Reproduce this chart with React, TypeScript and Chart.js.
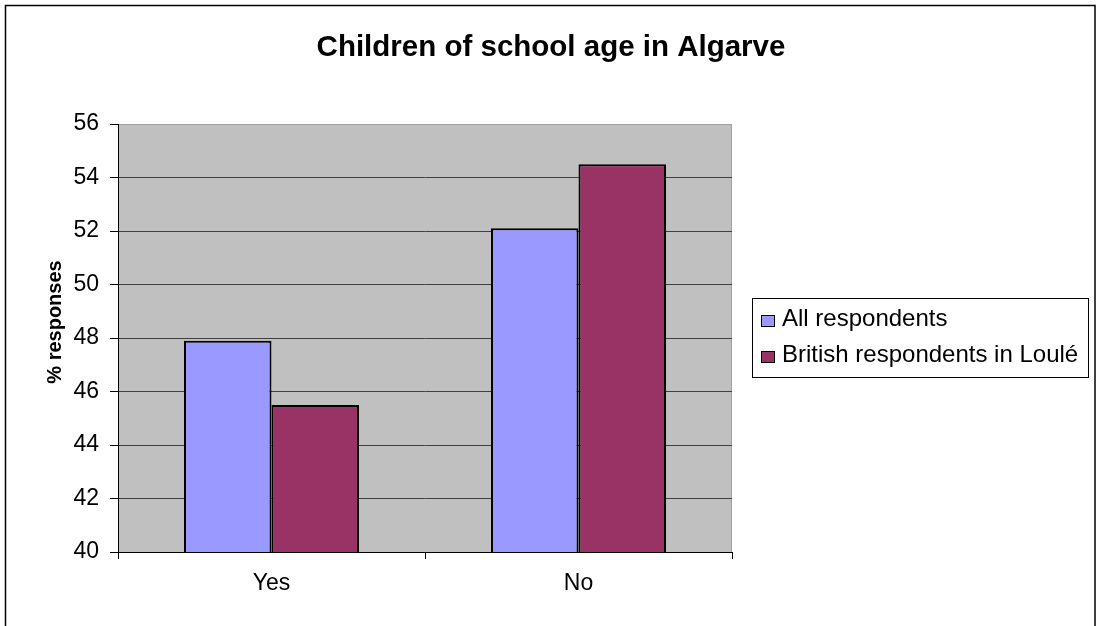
import React, { useEffect, useRef } from "react";
import { Chart, registerables } from "chart.js";

Chart.register(...registerables);

const categories = ["Yes", "No"];
const allRespondents = [47.9, 52.1];
const britishLoule = [45.5, 54.5];
const seriesLabels = ["All respondents", "British respondents in Loulé"];
const seriesColors = ["#9999FF", "#993366"];
const chartTitle = "Children of school age in Algarve";
const yAxisTitle = "% responses";
const yMin = 40;
const yMax = 56;
const yStep = 2;

const FONT = "'Liberation Sans', Arial, sans-serif";

const decor = {
  id: "decor",
  beforeDraw(chart: any) {
    const { ctx, chartArea: a } = chart;
    ctx.save();
    ctx.fillStyle = "#ffffff";
    ctx.fillRect(0, 0, chart.width, chart.height);
    ctx.strokeStyle = "#000000";
    ctx.lineWidth = 1.5;
    ctx.strokeRect(5.5, 5.5, 1089.5, 700);
    ctx.fillStyle = "#C0C0C0";
    ctx.fillRect(a.left, a.top, a.right - a.left, a.bottom - a.top);
    ctx.strokeStyle = "#a0a0a0";
    ctx.lineWidth = 1;
    ctx.beginPath();
    ctx.moveTo(a.left, a.top + 0.5);
    ctx.lineTo(a.right - 0.5, a.top + 0.5);
    ctx.lineTo(a.right - 0.5, a.bottom);
    ctx.stroke();
    ctx.restore();
  },
  afterDraw(chart: any) {
    const { ctx } = chart;
    ctx.save();
    // title
    ctx.fillStyle = "#000";
    ctx.font = `bold 29.5px ${FONT}`;
    ctx.textAlign = "center";
    ctx.textBaseline = "alphabetic";
    ctx.fillText(chartTitle, 551, 56);
    // y title
    ctx.save();
    ctx.translate(55, 322);
    ctx.rotate(-Math.PI / 2);
    ctx.font = `bold 20px ${FONT}`;
    ctx.textAlign = "center";
    ctx.textBaseline = "middle";
    ctx.fillText(yAxisTitle, 0, 0);
    ctx.restore();
    // legend
    ctx.strokeStyle = "#000";
    ctx.lineWidth = 1;
    ctx.strokeRect(752.5, 298.5, 336, 79);
    const baseY = [326, 362];
    chart.data.datasets.forEach((ds: any, i: number) => {
      const by = baseY[i];
      ctx.fillStyle = ds.backgroundColor;
      ctx.fillRect(761, by - 11, 14, 12);
      ctx.strokeStyle = "#000";
      ctx.strokeRect(761.5, by - 10.5, 13, 11);
      ctx.fillStyle = "#000";
      ctx.font = `24px ${FONT}`;
      ctx.textAlign = "left";
      ctx.textBaseline = "alphabetic";
      ctx.fillText(ds.label, 782, by);
    });
    ctx.restore();
  },
};

export default function App() {
  const ref = useRef<HTMLCanvasElement>(null);
  useEffect(() => {
    if (!ref.current) return;
    const chart = new Chart(ref.current, {
      type: "bar",
      data: {
        labels: categories,
        datasets: [
          {
            label: seriesLabels[0],
            data: allRespondents,
            backgroundColor: seriesColors[0],
            borderColor: "#000",
            borderWidth: 2,
          },
          {
            label: seriesLabels[1],
            data: britishLoule,
            backgroundColor: seriesColors[1],
            borderColor: "#000",
            borderWidth: 2,
          },
        ],
      },
      options: {
        responsive: false,
        devicePixelRatio: 1,
        animation: false,
        layout: { padding: { top: 124, right: 364, left: 0, bottom: 0 } },
        datasets: { bar: { barPercentage: 1, categoryPercentage: 0.57 } },
        plugins: {
          legend: { display: false },
          title: { display: false },
          tooltip: { enabled: false },
        },
        scales: {
          x: {
            offset: true,
            grid: {
              display: true,
              drawOnChartArea: false,
              offset: true,
              tickLength: 7,
              color: "#000",
            },
            border: { display: true, color: "#000", width: 1 },
            ticks: {
              color: "#000",
              font: { family: FONT, size: 23 },
              padding: 11,
            },
            afterFit: (s: any) => {
              s.height = 74;
            },
          },
          y: {
            min: yMin,
            max: yMax,
            ticks: {
              stepSize: yStep,
              color: "#000",
              font: { family: FONT, size: 23 },
              padding: 11,
            },
            grid: {
              color: (c: any) => (c.tick && c.tick.value === yMax ? "#a0a0a0" : "#404040"),
              tickColor: "#000",
              tickLength: 8,
              lineWidth: 1,
            },
            border: { display: true, color: "#000", width: 1 },
            afterFit: (s: any) => {
              s.width = 118;
            },
          },
        },
      },
      plugins: [decor],
    });
    return () => chart.destroy();
  }, []);
  return (
    <div style={{ position: "fixed", left: 0, top: 0 }}>
      <canvas ref={ref} width={1096} height={626} style={{ display: "block" }} />
    </div>
  );
}
